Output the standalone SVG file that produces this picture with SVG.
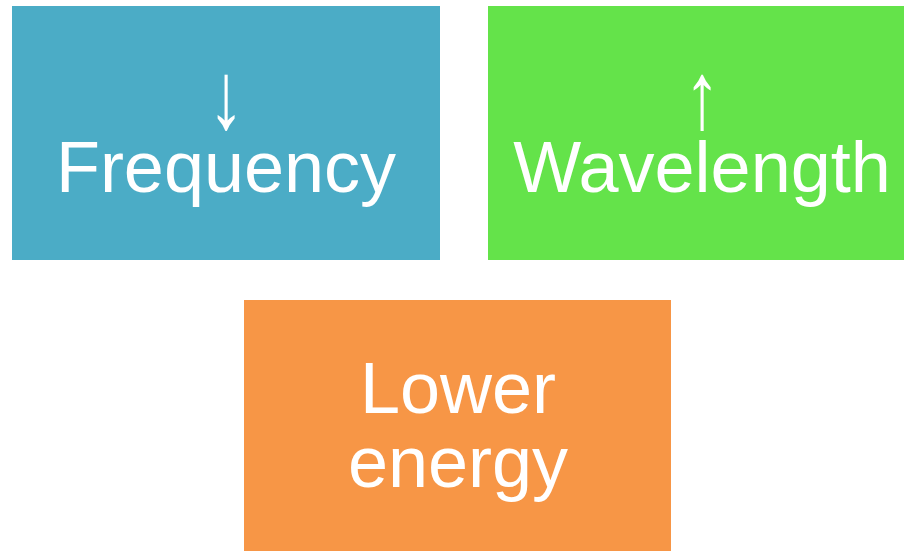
<svg xmlns="http://www.w3.org/2000/svg" width="904" height="551" viewBox="0 0 904 551">
<style>
.lbl{font-family:"Liberation Sans",Arial,sans-serif;font-size:72px;fill:#ffffff;text-anchor:middle}
</style>
<rect width="904" height="551" fill="#ffffff"/>
<g id="frequency">
<rect x="12" y="6" width="428" height="254" fill="#4BACC6"/>
<text class="lbl" transform="translate(226,128) scale(1,1.32)">↓</text>
<text class="lbl" x="226" y="192">Frequency</text>
</g>
<g id="wavelength">
<rect x="488" y="6" width="428" height="254" fill="#64E34A"/>
<text class="lbl" transform="translate(702,128) scale(1,1.32)">↑</text>
<text class="lbl" x="702" y="192">Wavelength</text>
</g>
<g id="energy">
<rect x="244" y="300" width="427" height="251" fill="#F79646"/>
<text class="lbl" x="458" y="413">Lower</text>
<text class="lbl" x="458" y="487">energy</text>
</g>
<g id="connectors"></g>
</svg>
